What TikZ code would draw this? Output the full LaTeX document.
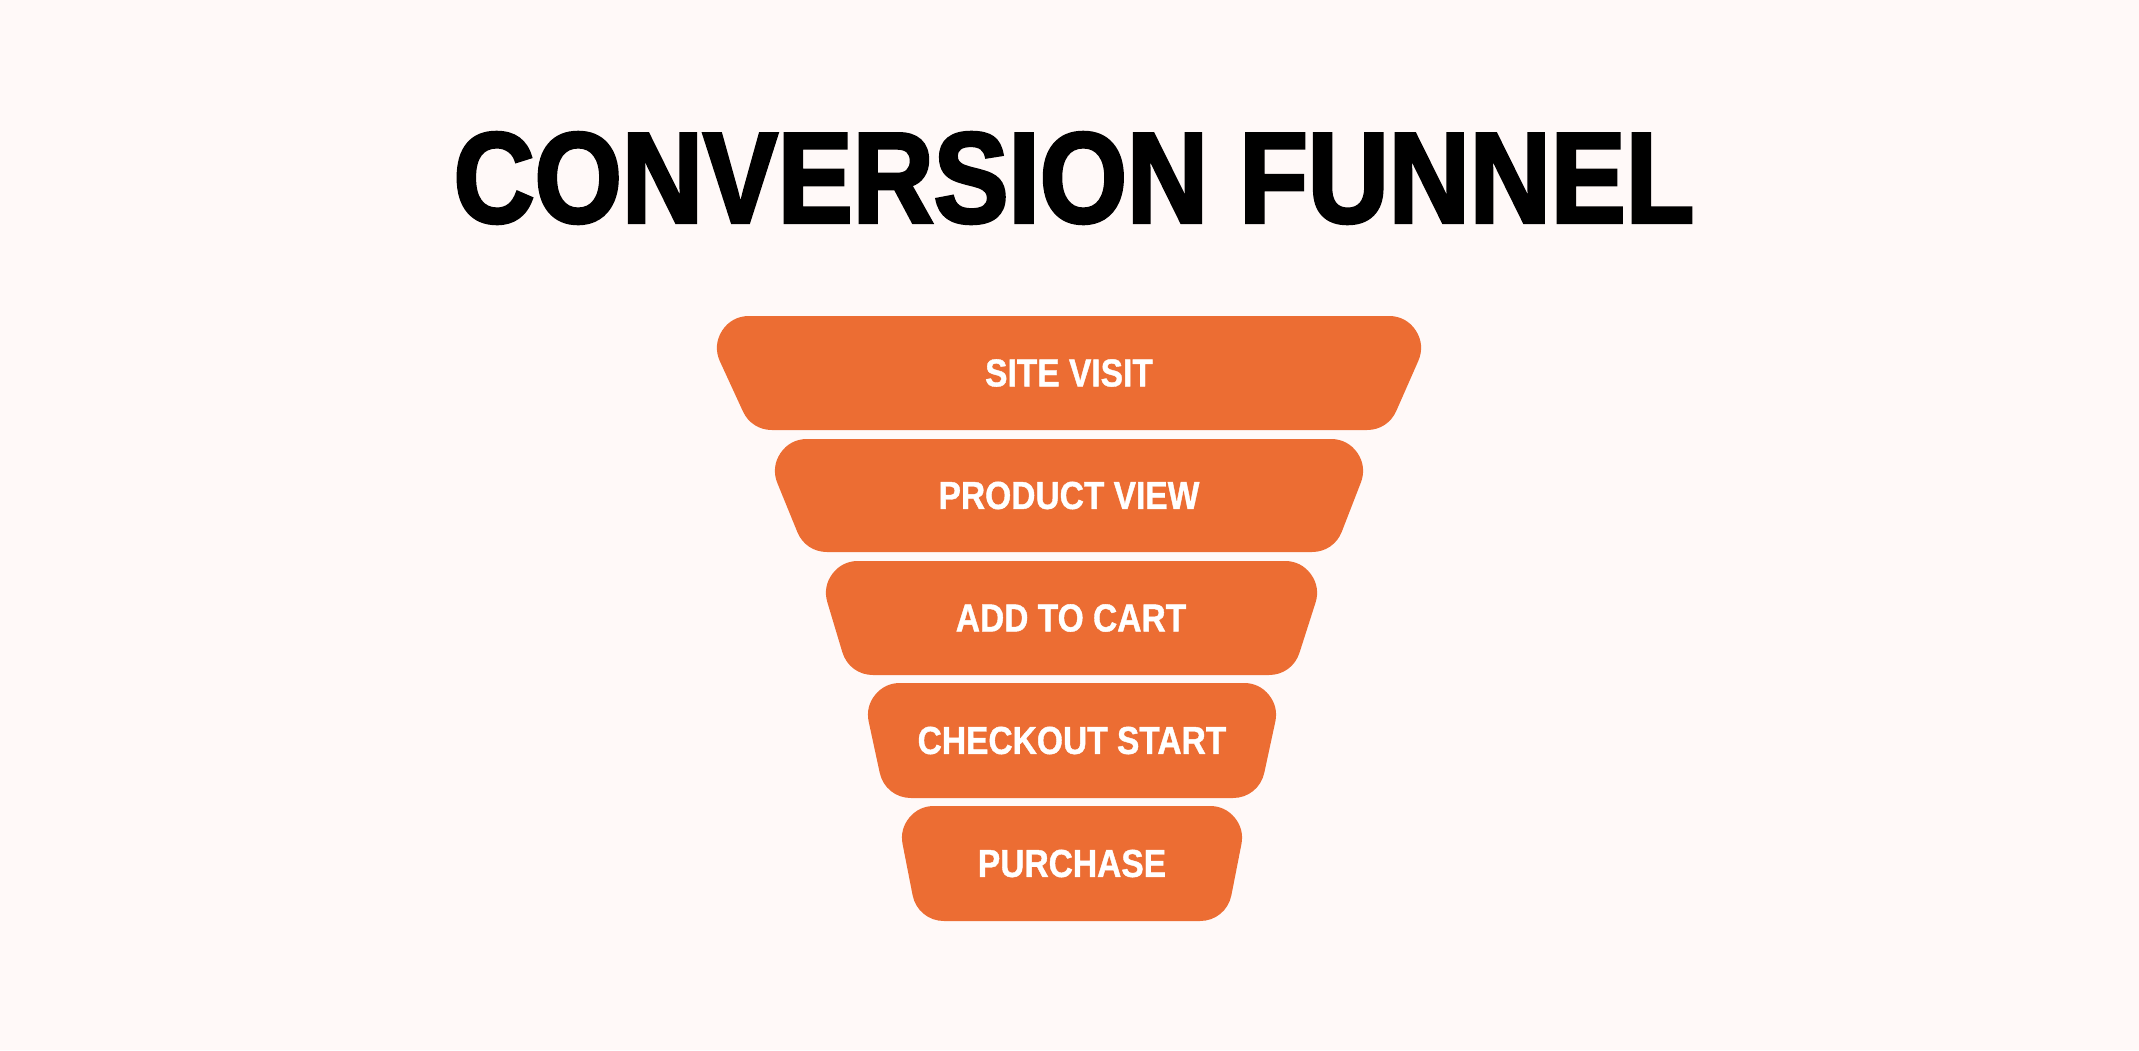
\documentclass[tikz,border=0pt]{standalone}
\usepackage{fontspec}
\setmainfont{Liberation Sans}
\newfontfamily\titlefont[FakeStretch=0.87,FakeBold=2.5]{Liberation Sans Bold}
\newfontfamily\stagefont[FakeStretch=0.86,FakeBold=1]{Liberation Sans Bold}
\definecolor{funnelorange}{HTML}{EC6D33}
\definecolor{paper}{HTML}{FFF9F8}

\begin{document}
\begin{tikzpicture}[x=1pt,y=-1pt,
  stage/.style={fill=funnelorange, draw=funnelorange, line width=64pt, line join=round},
  stagetext/.style={text=white, inner sep=0pt, font=\stagefont\fontsize{39}{39}\selectfont}]
  % Background
  \fill[paper] (0,0) rectangle (2139,1050);
  \useasboundingbox (0,0) rectangle (2139,1050);
  % Title
  \node[inner sep=0pt, font=\titlefont\fontsize{129}{129}\selectfont] (title) at (1074,178) {CONVERSION FUNNEL};
  % Draw funnel stages
  \path[stage] (749,348) -- (1389,348) -- (1367,398) -- (772,398) -- cycle;
  \path[stage] (807,471) -- (1331,471) -- (1312,520) -- (827,520) -- cycle;
  \path[stage] (858,593) -- (1285,593) -- (1269,643) -- (873,643) -- cycle;
  \path[stage] (900,715) -- (1244,715) -- (1233,766) -- (911,766) -- cycle;
  \path[stage] (934,838) -- (1210,838) -- (1200,889) -- (944,889) -- cycle;
  % Stage labels
  \node[stagetext] (visit) at (1069,373) {SITE VISIT};
  \node[stagetext] (view) at (1069,495.5) {PRODUCT VIEW};
  \node[stagetext] (cart) at (1071,618) {ADD TO CART};
  \node[stagetext] (checkout) at (1072,740.5) {CHECKOUT START};
  \node[stagetext] (purchase) at (1072,863.5) {PURCHASE};
\end{tikzpicture}
\end{document}
